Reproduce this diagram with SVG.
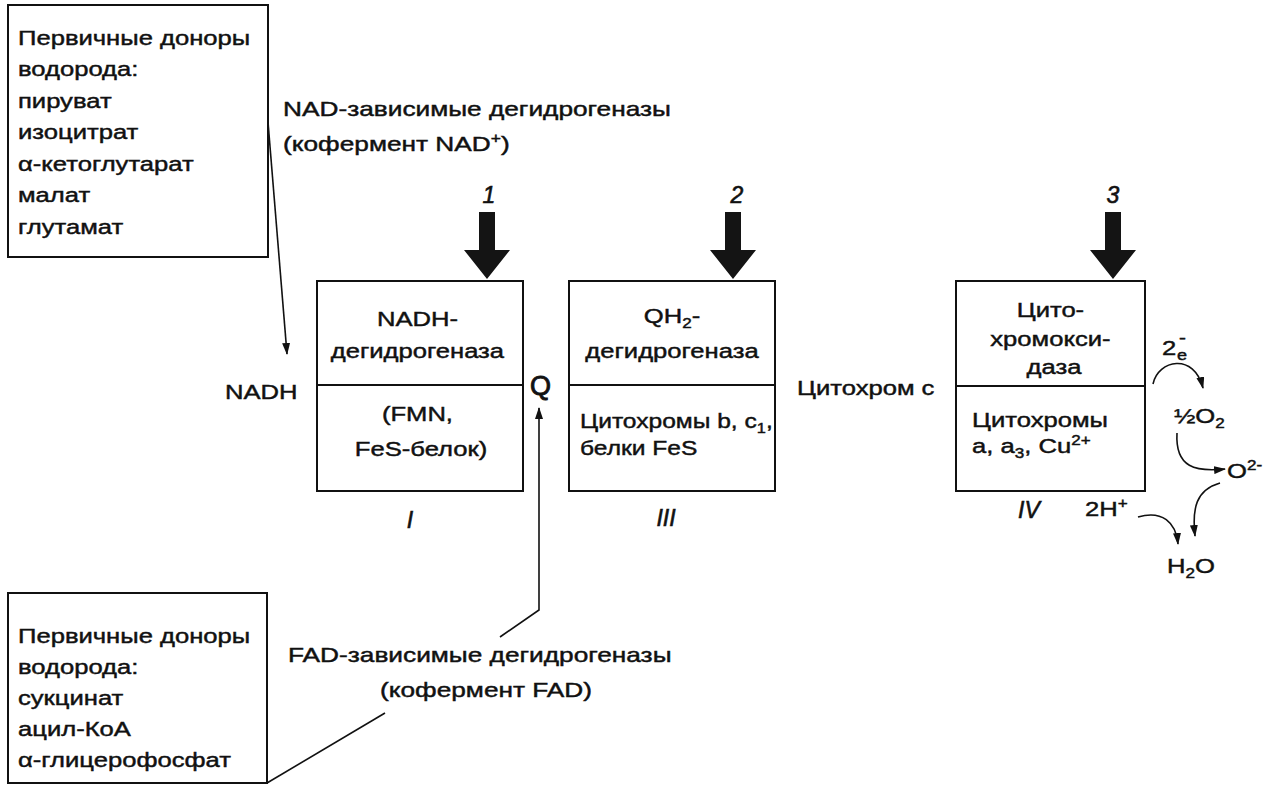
<svg xmlns="http://www.w3.org/2000/svg" width="1279" height="789" viewBox="0 0 1279 789">
  <style>
    .t { font-family: "Liberation Sans", Arial, sans-serif; font-size: 21px; fill: #111; stroke: #111; stroke-width: 0.45; }
    .it { font-family: "Liberation Sans", Arial, sans-serif; font-size: 23px; font-style: italic; fill: #111; stroke: #111; stroke-width: 0.6; }
    .sm { font-size: 14px; }
    .box { fill: none; stroke: #111; stroke-width: 2; }
    .div { stroke: #111; stroke-width: 2; }
    .ln { fill: none; stroke: #111; stroke-width: 1.6; }
    .big { fill: #141414; }
  </style>
  <defs>
    <marker id="ah" viewBox="0 0 12 8" refX="11" refY="4" markerWidth="12" markerHeight="8" markerUnits="userSpaceOnUse" orient="auto">
      <path d="M0,0 L12,4 L0,8 Z" fill="#111"/>
    </marker>
    <path id="thick" d="M-8,0 H8 V38 H23 L0,67 L-23,38 H-8 Z"/>
  </defs>

  <rect width="1279" height="789" fill="#fff"/>

  <!-- primary hydrogen donors for NAD-linked dehydrogenases -->
  <g id="donors-nad">
    <rect class="box" x="8" y="5" width="260" height="252"/>
    <text class="t" transform="translate(18 45) scale(1.22 1)">
      <tspan x="0" dy="0">Первичные доноры</tspan>
      <tspan x="0" dy="31.5">водорода:</tspan>
      <tspan x="0" dy="31.5">пируват</tspan>
      <tspan x="0" dy="31.5">изоцитрат</tspan>
      <tspan x="0" dy="31.5">α-кетоглутарат</tspan>
      <tspan x="0" dy="31.5">малат</tspan>
      <tspan x="0" dy="31.5">глутамат</tspan>
    </text>
  </g>

  <!-- primary hydrogen donors for FAD-linked dehydrogenases -->
  <g id="donors-fad">
    <rect class="box" x="8" y="593" width="259" height="190"/>
    <text class="t" transform="translate(18 643) scale(1.22 1)">
      <tspan x="0" dy="0">Первичные доноры</tspan>
      <tspan x="0" dy="31">водорода:</tspan>
      <tspan x="0" dy="31">сукцинат</tspan>
      <tspan x="0" dy="31">ацил-КоА</tspan>
      <tspan x="0" dy="31">α-глицерофосфат</tspan>
    </text>
  </g>

  <g id="label-nad">
    <text class="t" transform="translate(283 116) scale(1.25 1)">
      <tspan x="0" dy="0">NAD-зависимые дегидрогеназы</tspan>
      <tspan x="0" dy="35">(кофермент NAD<tspan class="sm" dy="-8">+</tspan><tspan dy="8">)</tspan></tspan>
    </text>
  </g>

  <g id="label-fad">
    <text class="t" transform="translate(288 662) scale(1.25 1)">FAD-зависимые дегидрогеназы</text>
    <text class="t" text-anchor="middle" transform="translate(486 697) scale(1.25 1)">(кофермент FAD)</text>
  </g>

  <g id="label-nadh">
    <text class="t" transform="translate(225 399) scale(1.22 1)">NADH</text>
  </g>

  <g id="label-q">
    <text class="t" style="font-size:27px; stroke-width:0.9" x="530" y="395">Q</text>
  </g>

  <g id="label-cytc">
    <text class="t" transform="translate(797 395) scale(1.22 1)">Цитохром с</text>
  </g>

  <!-- complex I -->
  <g id="complex-1">
    <use href="#thick" class="big" x="487" y="212"/>
    <text class="it" text-anchor="middle" x="489" y="203">1</text>
    <rect class="box" x="317" y="281" width="206" height="210"/>
    <line class="div" x1="317" y1="385" x2="523" y2="385"/>
    <text class="t" text-anchor="middle" transform="translate(421 326) scale(1.22 1)">
      <tspan x="0" dy="0">NADH-</tspan>
      <tspan x="0" dy="32">дегидрогеназа</tspan>
      <tspan x="0" dy="63">(FMN,</tspan>
      <tspan x="0" dy="35">FeS-белок)</tspan>
    </text>
    <text class="it" text-anchor="middle" x="410" y="528">I</text>
  </g>

  <!-- complex III -->
  <g id="complex-3">
    <use href="#thick" class="big" x="733" y="212"/>
    <text class="it" text-anchor="middle" x="737" y="203">2</text>
    <rect class="box" x="569" y="281" width="206" height="210"/>
    <line class="div" x1="569" y1="385" x2="775" y2="385"/>
    <text class="t" text-anchor="middle" transform="translate(672 323) scale(1.22 1)">QH<tspan class="sm" dy="5">2</tspan><tspan dy="-5">-</tspan></text>
    <text class="t" text-anchor="middle" transform="translate(672 358) scale(1.22 1)">дегидрогеназа</text>
    <text class="t" transform="translate(580 428) scale(1.17 1)">
      <tspan x="0" dy="0">Цитохромы b, c<tspan class="sm" dy="5">1</tspan><tspan dy="-5">,</tspan></tspan>
      <tspan x="0" dy="27">белки FeS</tspan>
    </text>
    <text class="it" text-anchor="middle" x="666" y="526">III</text>
  </g>

  <!-- complex IV -->
  <g id="complex-4">
    <use href="#thick" class="big" x="1113" y="212"/>
    <text class="it" text-anchor="middle" x="1113" y="203">3</text>
    <rect class="box" x="956" y="281" width="189" height="210"/>
    <line class="div" x1="956" y1="386" x2="1145" y2="386"/>
    <text class="t" text-anchor="middle" transform="translate(1054 317) scale(1.22 1)">
      <tspan x="0" dy="0">Цито-</tspan>
      <tspan x="0" dy="29">хромокси-</tspan>
      <tspan x="0" dy="28">даза</tspan>
    </text>
    <text class="t" transform="translate(972 427) scale(1.22 1)">
      <tspan x="0" dy="0">Цитохромы</tspan>
      <tspan x="0" dy="26">a, a<tspan class="sm" dy="5">3</tspan><tspan dy="-5">, Cu</tspan><tspan class="sm" dy="-8">2+</tspan></tspan>
    </text>
    <text class="it" x="1018" y="518">IV</text>
  </g>

  <!-- reduction of oxygen to water -->
  <g id="oxygen">
    <text class="t" transform="translate(1162 355) scale(1.22 1)">2</text>
    <text class="t" style="font-size:15px" transform="translate(1177 360) scale(1.2 1)">e</text>
    <text class="t" style="font-size:16px" transform="translate(1179 343) scale(1.3 1)">-</text>
    <text class="t" transform="translate(1174 423) scale(1.22 1)">½O<tspan class="sm" dy="5">2</tspan></text>
    <text class="t" transform="translate(1227 478) scale(1.22 1)">O<tspan class="sm" dy="-8">2-</tspan></text>
    <text class="t" transform="translate(1085 516) scale(1.22 1)">2H<tspan class="sm" dy="-8">+</tspan></text>
    <text class="t" transform="translate(1167 573) scale(1.22 1)">H<tspan class="sm" dy="5">2</tspan><tspan dy="-5">O</tspan></text>
  </g>

  <!-- thin connectors -->
  <g id="connectors">
    <path class="ln" d="M268,122 L287,354" marker-end="url(#ah)"/>
    <path class="ln" d="M267,783 L385,713"/>
    <path class="ln" d="M500,637 L539,610 L539,408" marker-end="url(#ah)"/>
    <path class="ln" d="M1153,384 C1158,360 1194,352 1203,388" marker-end="url(#ah)"/>
    <path class="ln" d="M1177,433 C1175,468 1196,472 1225,469" marker-end="url(#ah)"/>
    <path class="ln" d="M1220,483 C1196,490 1192,508 1195,536" marker-end="url(#ah)"/>
    <path class="ln" d="M1138,517 C1162,510 1176,522 1178,544" marker-end="url(#ah)"/>
  </g>
</svg>
